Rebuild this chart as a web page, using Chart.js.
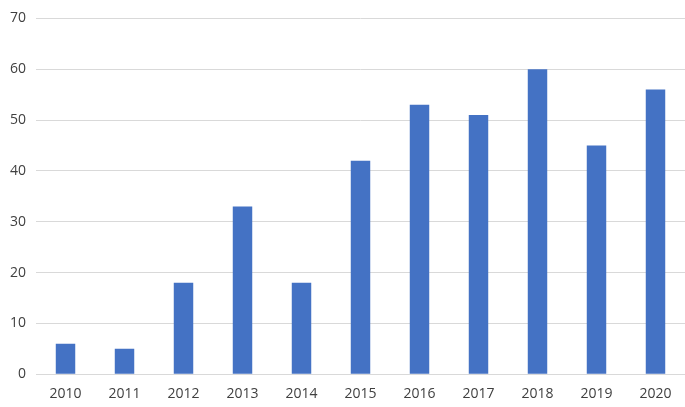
<!DOCTYPE html>
<html>
<head>
<meta charset="utf-8">
<script src="https://cdn.jsdelivr.net/npm/chart.js@4"></script>
<style>
  html, body { margin: 0; padding: 0; background: #fff; }
  #wrap { width: 685px; height: 407px; }
</style>
</head>
<body>
<div id="wrap"><canvas id="chart"></canvas></div>
<script>
// --- DATA --- //
const years = ['2010', '2011', '2012', '2013', '2014', '2015', '2016', '2017', '2018', '2019', '2020'];
const counts = [6, 5, 18, 33, 18, 42, 53, 51, 60, 45, 56];
const yTicks = [0, 10, 20, 30, 40, 50, 60, 70];

const fontFace = '"Open Sans", "Liberation Sans", sans-serif';

new Chart(document.getElementById('chart'), {
    type: 'bar',
    data: {
        labels: years,
        datasets: [{
            data: counts,
            backgroundColor: '#4472C4',
            barPercentage: 0.33,
            categoryPercentage: 1
        }]
    },
    options: {
        responsive: true,
        maintainAspectRatio: false,
        animation: false,
        layout: { padding: { top: -7, right: 0, left: 0, bottom: 2 } },
        plugins: { legend: { display: false }, tooltip: { enabled: false } },
        scales: {
            x: {
                grid: { display: false },
                border: { color: '#d9d9d9' },
                ticks: { color: '#404040', font: { family: fontFace, size: 14 } }
            },
            y: {
                min: 0,
                max: yTicks[yTicks.length - 1],
                afterBuildTicks: axis => { axis.ticks = yTicks.map(v => ({ value: v })); },
                grid: { color: '#d9d9d9', drawTicks: false },
                border: { display: false },
                ticks: { color: '#404040', padding: 10, font: { family: fontFace, size: 14 } }
            }
        }
    }
});
</script>
</body>
</html>
